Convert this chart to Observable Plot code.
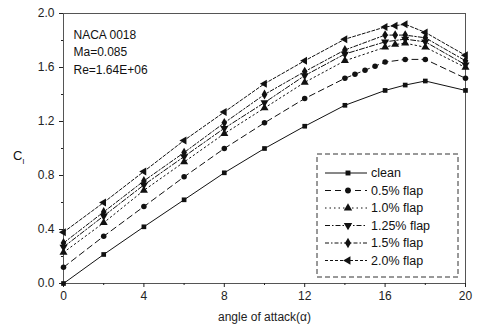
<!DOCTYPE html>
<html><head><meta charset="utf-8">
<script src="https://cdn.jsdelivr.net/npm/d3@7"></script>
<script src="https://cdn.jsdelivr.net/npm/@observablehq/plot@0.6"></script>
<style>
body{margin:0;background:#fff;}
svg{font-family:"Liberation Sans",Arial,sans-serif;}
</style>
</head><body>
<div id="chart"></div>
<script>
// ---- data ----
const seriesNames = ["clean", "0.5% flap", "1.0% flap", "1.25% flap", "1.5% flap", "2.0% flap"];
const angleClean = [0, 2, 4, 6, 8, 10, 12, 14, 16, 17, 18, 20];
const clClean    = [0, 0.215, 0.42, 0.62, 0.82, 1.00, 1.165, 1.32, 1.43, 1.47, 1.50, 1.43];
const angle05 = [0, 2, 4, 6, 8, 10, 12, 14, 14.5, 15, 15.5, 16, 17, 18, 20];
const cl05    = [0.12, 0.35, 0.57, 0.79, 1.00, 1.19, 1.37, 1.52, 1.55, 1.58, 1.61, 1.64, 1.66, 1.66, 1.52];
const angle10 = [0, 2, 4, 6, 8, 10, 12, 14, 16, 16.5, 17, 18, 20];
const cl10    = [0.23, 0.45, 0.69, 0.90, 1.11, 1.30, 1.49, 1.65, 1.75, 1.77, 1.78, 1.75, 1.60];
const angle125 = [0, 2, 4, 6, 8, 10, 12, 14, 16, 17, 18, 20];
const cl125    = [0.27, 0.50, 0.73, 0.94, 1.15, 1.34, 1.54, 1.70, 1.79, 1.81, 1.79, 1.62];
const angle15 = [0, 2, 4, 6, 8, 10, 12, 14, 16, 16.5, 17, 18, 20];
const cl15    = [0.30, 0.53, 0.76, 0.97, 1.19, 1.40, 1.57, 1.73, 1.84, 1.84, 1.84, 1.82, 1.65];
const angle20 = [0, 2, 4, 6, 8, 10, 12, 14, 16, 16.5, 17, 18, 20];
const cl20    = [0.38, 0.60, 0.83, 1.06, 1.27, 1.48, 1.65, 1.81, 1.90, 1.91, 1.92, 1.86, 1.69];
const xTicks = [0, 4, 8, 12, 16, 20];
const yTicks = [0, 0.4, 0.8, 1.2, 1.6, 2.0];
const annotation = ["NACA 0018", "Ma=0.085", "Re=1.64E+06"];

// ---- styles ----
const dashes = ["none", "6,4", "1.5,3", "5,2,1.5,2", "4,2,1.5,2", "3,2"];
const symbols = ["square", "circle", "triangle", "triangle", "diamond", "triangle"];
const rotations = [0, 0, 0, 180, 0, -90];
const symSizes = [22, 24, 28, 28, 28, 28];

const xs = [angleClean, angle05, angle10, angle125, angle15, angle20];
const ys = [clClean, cl05, cl10, cl125, cl15, cl20];
const series = seriesNames.map((name, i) => xs[i].map((a, j) => ({name, a, cl: ys[i][j]})));

const marks = [];
series.forEach((data, i) => {
  marks.push(Plot.line(data, {x: "a", y: "cl", stroke: "#111", strokeWidth: 1, strokeDasharray: dashes[i]}));
  marks.push(Plot.dot(data, {x: "a", y: "cl", symbol: () => symbols[i], fill: "#111", stroke: "none", r: Math.sqrt(symSizes[i] / Math.PI), rotate: rotations[i]}));
});

const minorX = d3.range(0, 21, 2).filter(v => v % 4 !== 0);
const minorY = d3.range(0, 2.01, 0.2).map(v => +v.toFixed(1)).filter(v => !yTicks.includes(v));

const plot = Plot.plot({
  width: 478, height: 330,
  marginLeft: 63, marginRight: 13, marginTop: 13, marginBottom: 47,
  style: {fontFamily: '"Liberation Sans", Arial, sans-serif', fontSize: "12px", color: "#222"},
  x: {domain: [0, 20]},
  y: {domain: [0, 2]},
  marks: [
    Plot.frame({stroke: "#555", strokeWidth: 1}),
    Plot.axisX({ticks: xTicks, tickSize: 4, tickPadding: 4, fontSize: 12, label: "angle of attack(α)", labelAnchor: "center", labelArrow: "none", labelOffset: 37}),
    Plot.axisX({ticks: minorX, tickSize: 2, text: null, label: null}),
    Plot.axisY({ticks: yTicks, tickSize: 4, tickPadding: 5, fontSize: 12, tickFormat: d3.format(".1f"), label: null}),
    Plot.axisY({ticks: minorY, tickSize: 2, text: null, label: null}),
    ...marks,
    Plot.text([annotation.join("\n")], {frameAnchor: "top-left", dx: 10, dy: 13, textAnchor: "start", lineAnchor: "top", fontSize: 12, lineHeight: 1.45, fill: "#111"})
  ]
});
document.getElementById("chart").appendChild(plot);

// ---- y label & legend ----
const svg = d3.select(plot);
const yl = svg.append("text").attr("x", 13).attr("y", 160).attr("text-anchor", "start").attr("font-size", 13).attr("fill", "#111");
yl.append("tspan").text("C");
yl.append("tspan").attr("font-size", 8).attr("dy", 4).text("l");

const lg = svg.append("g").attr("text-anchor", "start");
lg.append("rect").attr("x", 317).attr("y", 154).attr("width", 141).attr("height", 123)
  .attr("fill", "#fff").attr("stroke", "#333").attr("stroke-width", 1).attr("stroke-dasharray", "5,3");
const symMap = {square: d3.symbolSquare, circle: d3.symbolCircle, triangle: d3.symbolTriangle, diamond: d3.symbolDiamond};
seriesNames.forEach((name, i) => {
  const y = 173 + i * 17.5;
  lg.append("line").attr("x1", 325).attr("x2", 367).attr("y1", y).attr("y2", y)
    .attr("stroke", "#111").attr("stroke-width", 1).attr("stroke-dasharray", dashes[i]);
  lg.append("path").attr("d", d3.symbol(symMap[symbols[i]], symSizes[i] * 1.1)())
    .attr("transform", `translate(348,${y}) rotate(${rotations[i]})`).attr("fill", "#111");
  lg.append("text").attr("x", 371).attr("y", y).attr("dy", "0.35em").attr("font-size", 12.5).attr("fill", "#111").text(name);
});
</script>
</body></html>
